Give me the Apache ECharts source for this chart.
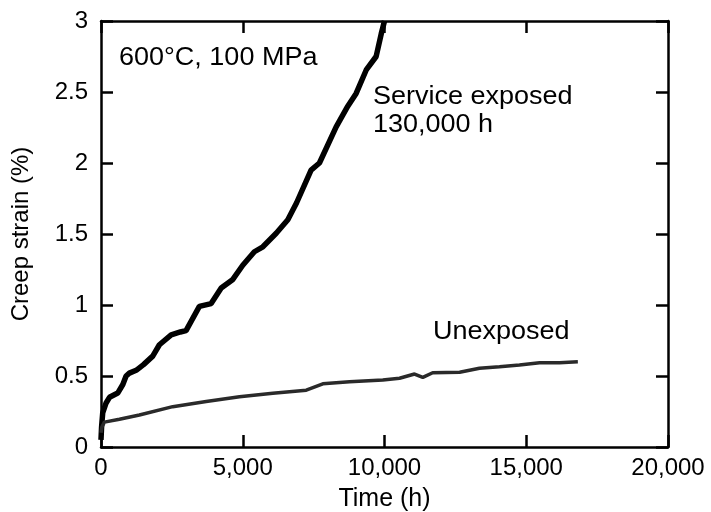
<!DOCTYPE html>
<html>
<head>
<meta charset="utf-8">
<script src="https://cdn.jsdelivr.net/npm/echarts@6/dist/echarts.min.js"></script>
<style>
  html, body { margin: 0; padding: 0; background: #fff; }
  #chart { width: 711px; height: 512px; }
</style>
</head>
<body>
<div id="chart"></div>
<script>
// values
var exposedTime = [0, 20, 60, 180, 300, 590, 770, 885, 1000, 1240, 1500, 1825, 2060, 2475, 2800, 3000,
  3470, 3885, 4240, 4650, 5000, 5410, 5710, 6180, 6590, 6900, 7410, 7705, 8295, 8705, 9000, 9355, 9705, 9885, 10000];
var exposedStrain = [0.05, 0.14, 0.24, 0.31, 0.35, 0.38, 0.44, 0.50, 0.52, 0.54, 0.58, 0.64, 0.72, 0.79, 0.81, 0.82,
  0.99, 1.01, 1.12, 1.18, 1.28, 1.375, 1.41, 1.505, 1.60, 1.72, 1.95, 2.00, 2.255, 2.40, 2.49, 2.655, 2.75, 2.91, 3.0];

var unexposedTime = [0, 30, 120, 650, 1355, 2530, 3710, 4885, 6060, 7240, 7825, 8765, 9940, 10530, 11060, 11350,
  11700, 12650, 13350, 14055, 14760, 15470, 16170, 16820];
var unexposedStrain = [0.10, 0.14, 0.175, 0.195, 0.225, 0.284, 0.32, 0.354, 0.378, 0.40, 0.445, 0.46, 0.472, 0.484, 0.514, 0.49,
  0.523, 0.526, 0.554, 0.565, 0.577, 0.594, 0.594, 0.60];

var xTicks = [0, 5000, 10000, 15000, 20000];
var yTicks = [0, 0.5, 1, 1.5, 2, 2.5, 3];

function pairs(xs, ys) {
  return xs.map(function (x, i) { return [x, ys[i]]; });
}

var chart = echarts.init(document.getElementById('chart'));
var font = 'Liberation Sans, Arial, sans-serif';
var axisLine = { show: true, onZero: false, lineStyle: { color: '#000', width: 2.5 } };
var axisTick = { show: true, inside: true, length: 12, lineStyle: { color: '#000', width: 2.5 } };

var option = {
  backgroundColor: '#fff',
  animation: false,
  grid: { left: 101, right: 43, top: 21, bottom: 65, outerBoundsMode: 'none', containLabel: false },
  xAxis: [{
    type: 'value',
    min: xTicks[0], max: xTicks[xTicks.length - 1], interval: 5000,
    name: 'Time (h)', nameLocation: 'middle', nameGap: 40,
    nameTextStyle: { color: '#000', fontSize: 25, fontFamily: font },
    axisLine: axisLine, axisTick: axisTick, splitLine: { show: false },
    axisLabel: {
      color: '#000', fontSize: 24, fontFamily: font, margin: 9,
      formatter: function (v) { return v.toLocaleString('en-US'); }
    }
  }, {
    type: 'value', position: 'top',
    min: xTicks[0], max: xTicks[xTicks.length - 1], interval: 5000,
    axisLine: axisLine, axisTick: axisTick, splitLine: { show: false },
    axisLabel: { show: false }
  }],
  yAxis: [{
    type: 'value',
    min: yTicks[0], max: yTicks[yTicks.length - 1], interval: 0.5,
    name: 'Creep strain (%)', nameLocation: 'middle', nameGap: 68, nameRotate: 90,
    nameTextStyle: { color: '#000', fontSize: 24, fontFamily: font },
    axisLine: axisLine, axisTick: axisTick, splitLine: { show: false },
    axisLabel: { color: '#000', fontSize: 24, fontFamily: font, margin: 13 }
  }, {
    type: 'value', position: 'right',
    min: yTicks[0], max: yTicks[yTicks.length - 1], interval: 0.5,
    axisLine: axisLine, axisTick: axisTick, splitLine: { show: false },
    axisLabel: { show: false }
  }],
  series: [{
    name: 'Service exposed', type: 'line', showSymbol: false,
    data: pairs(exposedTime, exposedStrain),
    lineStyle: { color: '#000', width: 5.5 }
  }, {
    name: 'Unexposed', type: 'line', showSymbol: false,
    data: pairs(unexposedTime, unexposedStrain),
    lineStyle: { color: '#2a2a2a', width: 3.5 }
  }],
  graphic: [
    { type: 'text', left: 119, top: 46, scaleX: 1.08, style: { text: '600°C, 100 MPa', fill: '#000', font: '25px ' + font } },
    { type: 'text', left: 373, top: 83, scaleX: 1.08, style: { text: 'Service exposed\n130,000 h', fill: '#000', font: '25px ' + font, lineHeight: 28 } },
    { type: 'text', left: 433, top: 320, scaleX: 1.08, style: { text: 'Unexposed', fill: '#000', font: '25px ' + font } }
  ]
};

chart.setOption(option);
</script>
</body>
</html>
